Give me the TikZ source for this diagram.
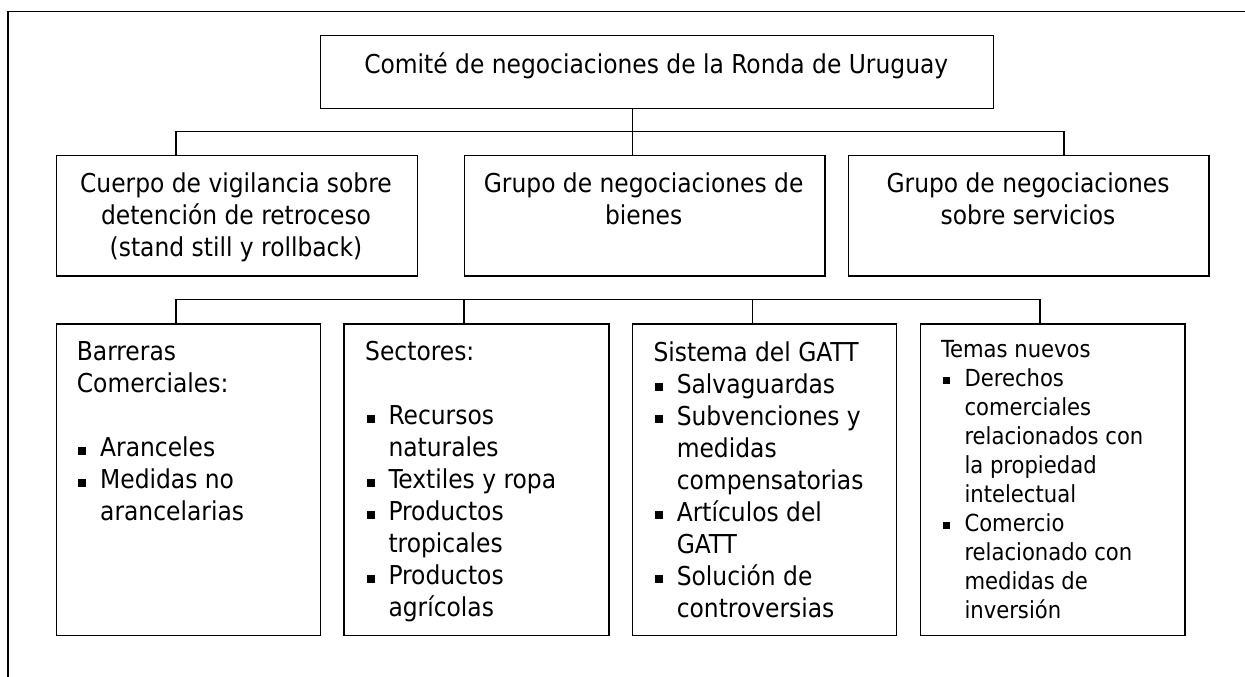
\documentclass[tikz,border=0pt]{standalone}
\usepackage{fontspec}
\setmainfont{DejaVu Sans Condensed}
\newcommand\mybul{\hspace*{1.3bp}\rule[2bp]{8bp}{8bp}}
\newcommand\myitem[1]{\makebox[23.3bp][l]{\mybul}#1}
\newcommand\mycont[1]{\hspace*{23.3bp}#1}
\newcommand\mysbul{\hspace*{1.3bp}\rule[2bp]{7bp}{7bp}}
\newcommand\mysitem[1]{\makebox[23.3bp][l]{\mysbul}#1}
\begin{document}
\begin{tikzpicture}[x=1bp,y=-1bp,
  box/.style={draw,line width=1.4bp,inner sep=0pt,anchor=north west},
  bigtxt/.style={inner sep=0pt,font=\fontsize{26bp}{32bp}\selectfont},
  smalltxt/.style={inner sep=0pt,font=\fontsize{23.5bp}{29bp}\selectfont},
  link/.style={line width=1.4bp}]
\useasboundingbox (0,0) rectangle (1245,677);
% outer frame
\coordinate (fb) at (8,677);
\coordinate (fc) at (8,11.7);
\coordinate (fr) at (1245,11.7);
\draw[line width=1.4bp] (fb) -- (fc) -- (fr);
% boxes
\node[box,minimum width=672.7bp,minimum height=72.7bp] (top) at (320,35) {};
\node[box,minimum width=361bp,minimum height=120.3bp] (ra) at (55.7,155) {};
\node[box,minimum width=360.3bp,minimum height=120.3bp] (rb) at (464,155) {};
\node[box,minimum width=360.6bp,minimum height=120.3bp] (rc) at (847.7,155) {};
\node[box,minimum width=264.3bp,minimum height=311.7bp] (sa) at (55.7,323.3) {};
\node[box,minimum width=265bp,minimum height=311.7bp] (sb) at (343.3,323.3) {};
\node[box,minimum width=264.3bp,minimum height=311.7bp] (sc) at (631.7,323.3) {};
\node[box,minimum width=264.3bp,minimum height=311.7bp] (sd) at (920,323.3) {};
% texts
\node[bigtxt,anchor=base] (ttop) at (656.3,73.3) {Comité de negociaciones de la Ronda de Uruguay};
\node[bigtxt,anchor=base] (tra) at (236,192.5) {\parbox[t]{350bp}{\centering Cuerpo de vigilancia sobre\\detención de retroceso\\(stand still y rollback)}};
\node[bigtxt,anchor=base] (trb) at (643.7,192.5) {\parbox[t]{350bp}{\centering Grupo de negociaciones de\\bienes}};
\node[bigtxt,anchor=base] (trc) at (1028,192.5) {\parbox[t]{350bp}{\centering Grupo de negociaciones\\sobre servicios}};
\node[bigtxt,anchor=base west] (tsa) at (76.7,360.5) {\parbox[t]{240bp}{\raggedright Barreras\\Comerciales:\\[32bp]\myitem{Aranceles}\\\myitem{Medidas no}\\\mycont{arancelarias}}};
\node[bigtxt,anchor=base west] (tsb) at (365,360.5) {\parbox[t]{240bp}{\raggedright Sectores:\\[32bp]\myitem{Recursos}\\\mycont{naturales}\\\myitem{Textiles y ropa}\\\myitem{Productos}\\\mycont{tropicales}\\\myitem{Productos}\\\mycont{agrícolas}}};
\node[bigtxt,anchor=base west] (tsc) at (653.3,361) {\parbox[t]{240bp}{\raggedright Sistema del GATT\\\myitem{Salvaguardas}\\\myitem{Subvenciones y}\\\mycont{medidas}\\\mycont{compensatorias}\\\myitem{Artículos del}\\\mycont{GATT}\\\myitem{Solución de}\\\mycont{controversias}}};
\node[smalltxt,anchor=base west] (tsd) at (941,357.3) {\parbox[t]{240bp}{\raggedright Temas nuevos\\\mysitem{Derechos}\\\mycont{comerciales}\\\mycont{relacionados con}\\\mycont{la propiedad}\\\mycont{intelectual}\\\mysitem{Comercio}\\\mycont{relacionado con}\\\mycont{medidas de}\\\mycont{inversión}}};
% connectors level 1
\coordinate (ja) at (176,131.7);
\coordinate (jc) at (1064,131.7);
\coordinate (jm) at (632.3,131.7);
\draw[link] (ra.north -| ja) -- (ja) -- (jc) -- (rc.north -| jc);
\draw[link] (top.south -| jm) -- (rb.north -| jm);
% connectors level 2
\coordinate (ka) at (176,299.3);
\coordinate (kb) at (464,299.3);
\coordinate (kc) at (752.3,299.3);
\coordinate (kd) at (1040,299.3);
\draw[link] (sa.north -| ka) -- (ka) -- (kd) -- (sd.north -| kd);
\draw[link] (kb) -- (sb.north -| kb);
\draw[link] (kc) -- (sc.north -| kc);
\end{tikzpicture}
\end{document}
